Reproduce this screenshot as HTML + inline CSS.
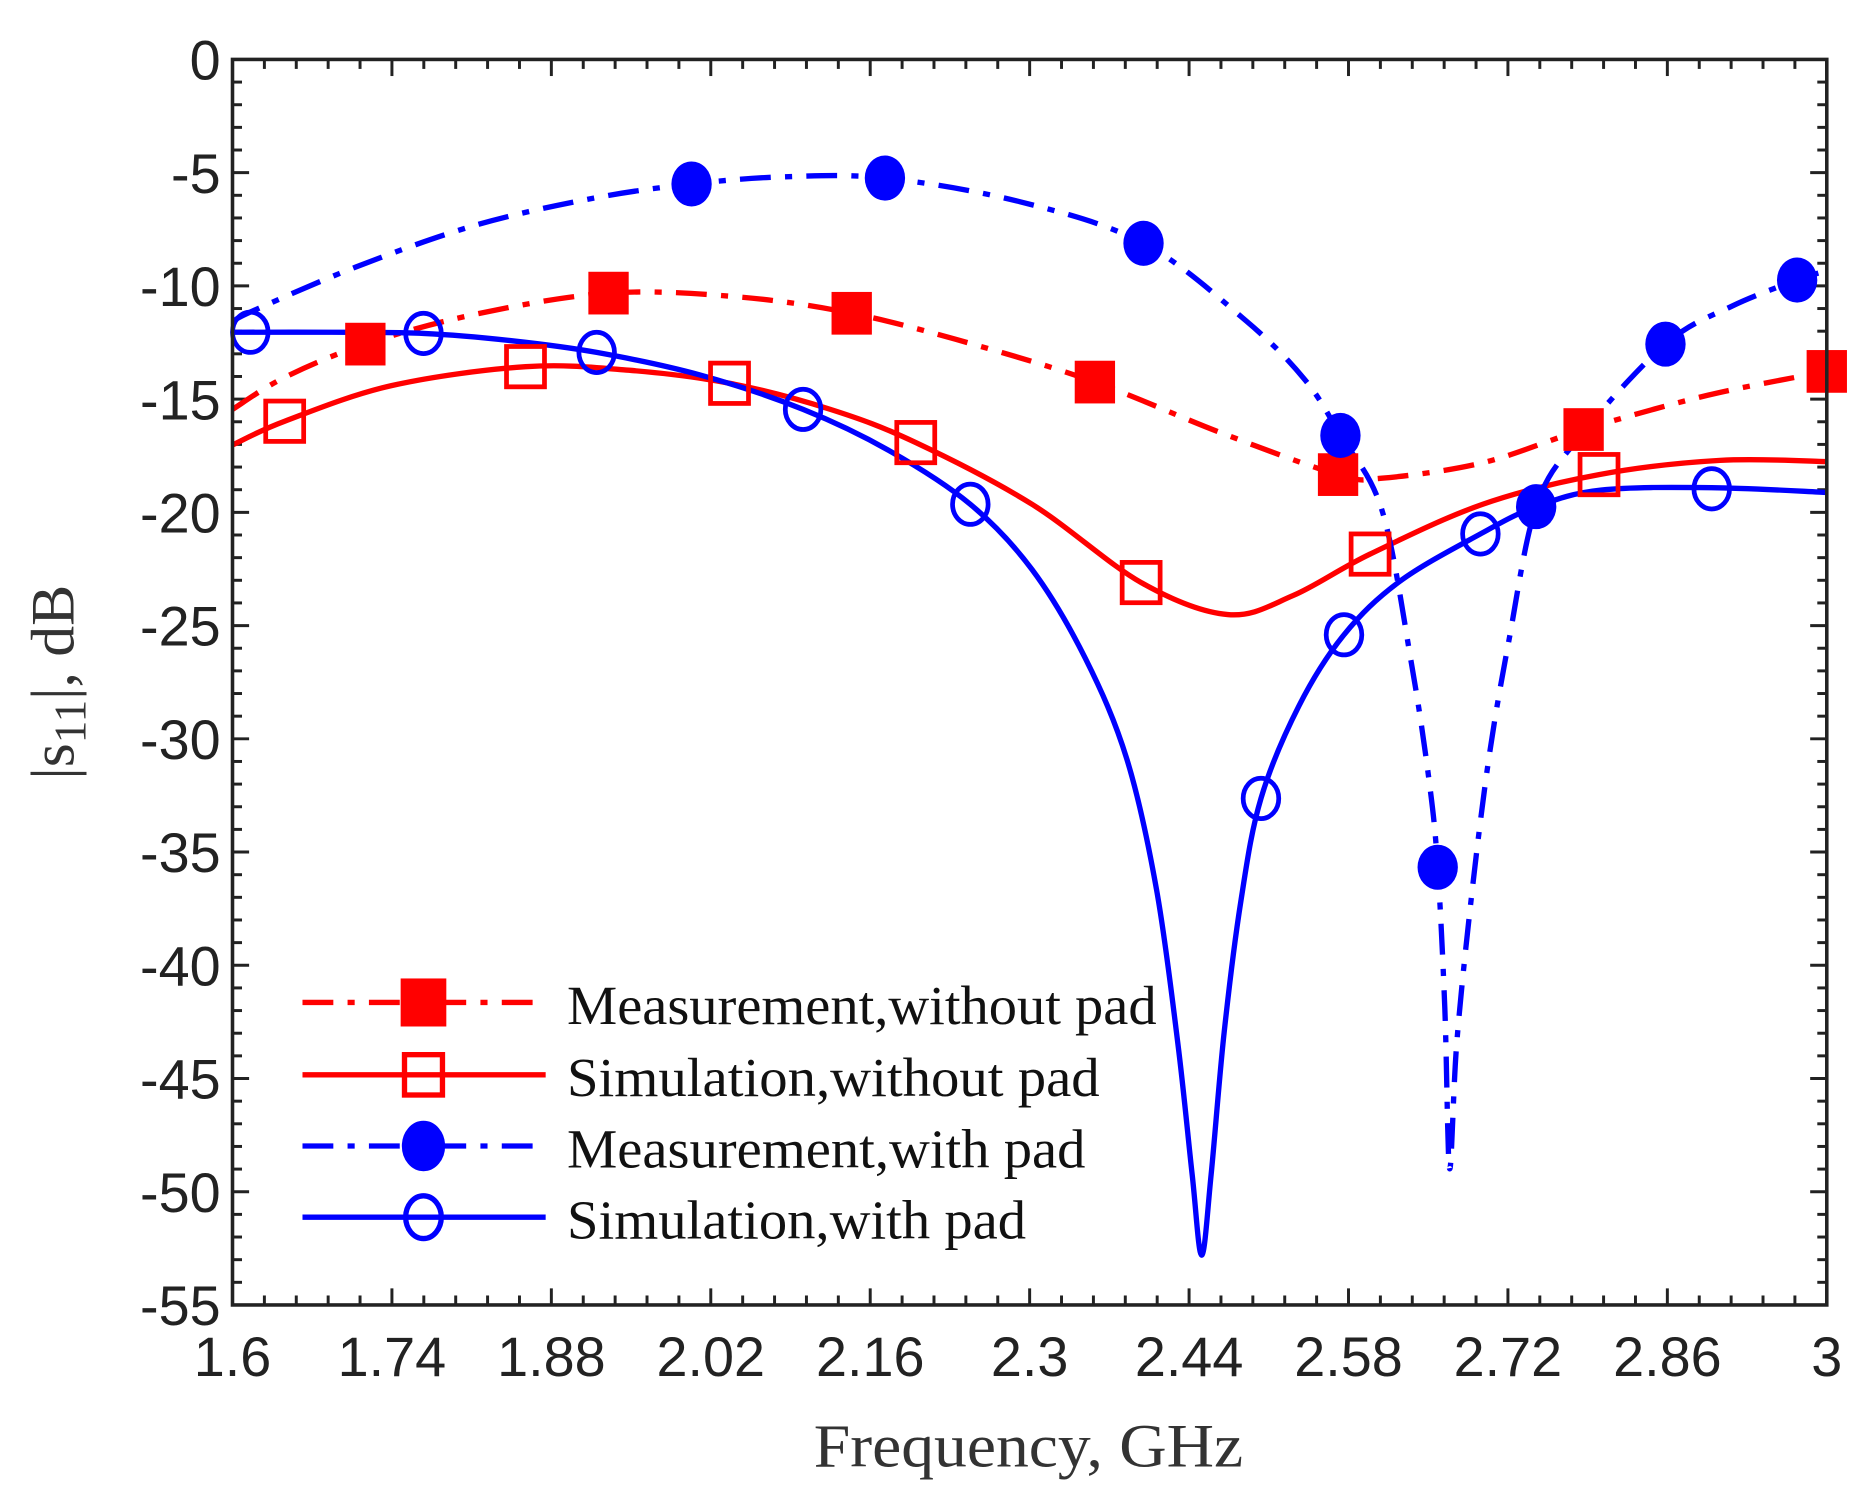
<!DOCTYPE html>
<html><head><meta charset="utf-8"><style>
html,body{margin:0;padding:0;background:#fff;}
svg{display:block;}
</style></head><body>
<svg id="s" width="1860" height="1502" viewBox="0 0 1568 1266" xmlns="http://www.w3.org/2000/svg">
<rect width="1568" height="1266" fill="#fff"/>
<g id="ticks" stroke="#222" stroke-width="2.5"></g>
<g id="curves" fill="none" stroke-width="4.5"></g>
<g id="marks"></g>
<rect x="196" y="50" width="1344" height="1050" fill="none" stroke="#222" stroke-width="3"/>
<g id="labels" font-family="Liberation Sans, sans-serif" font-size="47" fill="#222"></g>
<text x="686" y="1236" font-family="Liberation Serif, serif" font-size="52" fill="#333" textLength="362" lengthAdjust="spacingAndGlyphs">Frequency, GHz</text>
<text transform="translate(62,575) rotate(-90)" font-family="Liberation Serif, serif" font-size="52" fill="#333" text-anchor="middle">|s<tspan font-size="38" dy="10">11</tspan><tspan dy="-10">|, dB</tspan></text>
<g font-family="Liberation Serif, serif" font-size="46" fill="#111" lengthAdjust="spacingAndGlyphs">
<text x="478" y="863" textLength="497" lengthAdjust="spacingAndGlyphs">Measurement,without pad</text>
<text x="478" y="924" textLength="449" lengthAdjust="spacingAndGlyphs">Simulation,without pad</text>
<text x="478" y="984" textLength="437" lengthAdjust="spacingAndGlyphs">Measurement,with pad</text>
<text x="478" y="1044" textLength="387" lengthAdjust="spacingAndGlyphs">Simulation,with pad</text>
</g>
<g stroke-width="4.5" fill="none">
<line x1="255" y1="845" x2="460" y2="845" stroke="#f00" stroke-dasharray="26,12,6,12"/>
<line x1="255" y1="906" x2="460" y2="906" stroke="#f00"/>
<line x1="255" y1="966" x2="460" y2="966" stroke="#00f" stroke-dasharray="26,12,6,12"/>
<line x1="255" y1="1026" x2="460" y2="1026" stroke="#00f"/>
<rect x="340" y="827" width="34" height="36" fill="#f00" stroke="#f00"/>
<rect x="341" y="889" width="32" height="34" stroke="#f00"/>
<ellipse cx="357" cy="966" rx="16" ry="19" fill="#00f" stroke="#00f"/>
<ellipse cx="357" cy="1026" rx="15" ry="18" stroke="#00f"/>
</g>
</svg>
<script>
var NS="http://www.w3.org/2000/svg";
function el(p,t,a){var e=document.createElementNS(NS,t);for(var k in a)e.setAttribute(k,a[k]);document.getElementById(p).appendChild(e);return e;}
for(var i=0;i<=50;i++){var x=196+i*1344/50;var L=(i%5==0)?14:8;
 el("ticks","line",{x1:x,y1:1100,x2:x,y2:1100-L});el("ticks","line",{x1:x,y1:50,x2:x,y2:50+L});}
for(var i=0;i<=55;i++){var y=50+i*1050/55;var L=(i%5==0)?14:8;
 el("ticks","line",{x1:196,y1:y,x2:196+L,y2:y});el("ticks","line",{x1:1540,y1:y,x2:1540-L,y2:y});}
var xl=["1.6","1.74","1.88","2.02","2.16","2.3","2.44","2.58","2.72","2.86","3"];
xl.forEach(function(s,i){var t=el("labels","text",{x:196+i*134.4,y:1160,"text-anchor":"middle"});t.textContent=s;});
for(var i=0;i<=11;i++){var t=el("labels","text",{x:186,y:50+i*95.45+17,"text-anchor":"end"});t.textContent=i==0?"0":"-"+(i*5);}
function cr(p){var d="M"+p[0][0]+","+p[0][1];for(var i=0;i<p.length-1;i++){var p0=p[i-1]||p[i],p1=p[i],p2=p[i+1],p3=p[i+2]||p2;
 d+=" C"+(p1[0]+(p2[0]-p0[0])/6)+","+(p1[1]+(p2[1]-p0[1])/6)+" "+(p2[0]-(p3[0]-p1[0])/6)+","+(p2[1]-(p3[1]-p1[1])/6)+" "+p2[0]+","+p2[1];}return d;}
var redM=[[196,345],[240,318],[308,290],[400,265],[513,247],[620,250],[718,264],[820,290],[923,322],[1030,365],[1128,400],[1165,403],[1250,390],[1335,362],[1440,333],[1540,313]];
var redS=[[196,375],[240,355],[330,325],[443,309],[530,312],[615,323],[700,345],[772,373],[870,425],[962,491],[1035,518],[1090,502],[1155,467],[1250,425],[1348,400],[1450,388],[1540,389]];
var bluM=[[196,272],[211,263],[300,225],[400,190],[500,167],[583,155],[660,149],[746,150],[860,170],[964,205],[1050,270],[1100,320],[1130,367],[1165,430],[1190,560],[1205,660],[1212,731],[1218,850],[1222,985],[1228,880],[1240,760],[1255,640],[1272,540],[1295,427],[1330,370],[1404,290],[1460,258],[1515,236],[1540,228]];
var bluS=[[196,280],[280,280],[357,281],[430,287],[503,297],[590,316],[677,345],[750,380],[818,425],[870,480],[915,555],[950,640],[975,750],[993,880],[1005,990],[1013,1058],[1021,990],[1032,870],[1046,760],[1063,673],[1095,595],[1133,535],[1180,490],[1248,450],[1295,427],[1350,413],[1443,411],[1540,415]];
el("curves","path",{d:cr(redS),stroke:"#f00"});
el("curves","path",{d:cr(redM),stroke:"#f00","stroke-dasharray":"26,12,6,12"});
el("curves","path",{d:cr(bluS),stroke:"#00f"});
el("curves","path",{d:cr(bluM),stroke:"#00f","stroke-dasharray":"26,12,6,12"});
[[308,290],[513,247],[718,264],[923,322],[1128,400],[1335,362],[1540,313]].forEach(function(p){el("marks","rect",{x:p[0]-17,y:p[1]-18,width:34,height:36,fill:"#f00"});});
[[240,355],[443,309],[615,323],[772,373],[962,491],[1155,467],[1348,400]].forEach(function(p){el("marks","rect",{x:p[0]-16,y:p[1]-17,width:32,height:34,fill:"none",stroke:"#f00","stroke-width":4});});
[[583,155],[746,150],[964,205],[1130,367],[1212,731],[1295,427],[1404,290],[1515,236]].forEach(function(p){el("marks","ellipse",{cx:p[0],cy:p[1],rx:17,ry:19,fill:"#00f"});});
[[211,280],[357,281],[503,297],[677,345],[818,425],[1063,673],[1133,535],[1248,450],[1443,412]].forEach(function(p){el("marks","ellipse",{cx:p[0],cy:p[1],rx:15,ry:17,fill:"none",stroke:"#00f","stroke-width":4});});
</script>
</body></html>
